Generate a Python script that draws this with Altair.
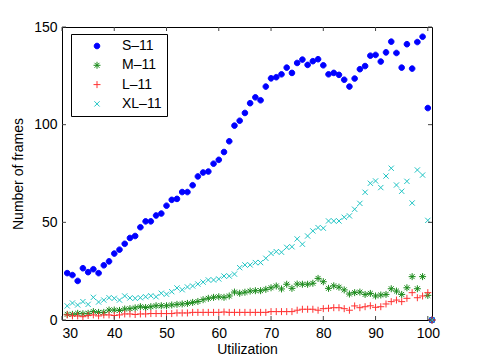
import altair as alt
import pandas as pd

series_names = ["S–11", "M–11", "L–11", "XL–11"]
series_colors = ["#0000ff", "#1a8a1a", "#ff3333", "#20c4c4"]

utilization = list(range(31, 101)) + [100.8]

s11 = [24, 23, 20, 26.5, 24.5, 26, 24, 28, 30, 34, 36, 39, 42, 43, 47.5, 50.5, 50.5, 53.5, 54.5, 58.5,
       61.5, 62, 65.5, 65.5, 69, 73.5, 75.5, 76, 80, 82, 86, 91.5, 99.5, 102, 106, 111, 114, 112.5, 119.5, 123.7,
       124.3, 125.8, 129.2, 126.5, 131.6, 133.3, 130.6, 132.5, 133.5, 130.4, 125.8, 126.5, 125.5, 123, 119.5, 123.6, 128.4, 130, 135.3, 135.7,
       132.3, 137, 142.5, 136.7, 129.2, 141.2, 128.7, 142.3, 145, 108.5, 0]

m11 = [2.9, 2.9, 3.4, 3.2, 3.4, 4.3, 3.9, 3.9, 5.1, 5.1, 4.9, 5.6, 5.8, 6.2, 6.8, 6.4, 6.8, 7.3, 7.3, 7.3,
       7.7, 8.0, 8.2, 8.5, 9.0, 9.5, 10.4, 11.1, 11.6, 11.9, 11.6, 12.3, 14.3, 13.7, 14.2, 14.8, 15, 15, 15.7, 16.5,
       17.4, 15.9, 18.3, 16.2, 18.4, 18.3, 18.3, 18.8, 21.3, 19.6, 16.2, 17.5, 16.8, 15.4, 13.3, 14, 14.3, 13.1, 13.6, 12.3,
       12.8, 13.1, 16, 14.8, 13.1, 16.5, 22.2, 16, 22.2, 12.6, 0]

l11 = [2.6, 2.1, 2.1, 1.7, 2.3, 2.6, 2.1, 2.6, 2.6, 2.3, 2.6, 3.1, 3.1, 2.8, 3.1, 3.1, 3.3, 3.3, 3.3, 3.3,
       3.3, 3.6, 3.6, 3.6, 3.9, 3.9, 3.9, 3.9, 3.9, 3.9, 4.1, 3.9, 3.9, 3.9, 3.9, 3.9, 3.9, 3.9, 3.9, 4.3,
       4.3, 4.3, 4.3, 4.3, 5.0, 5.5, 5.5, 5.5, 5.0, 5.8, 6.0, 6.3, 6.3, 5.8, 5.0, 7.2, 6.3, 6.8, 7.3, 6.5,
       6.8, 8.2, 9.4, 10.2, 9.4, 11.1, 14, 11.4, 12.3, 14, 0]

xl11 = [7.2, 8.7, 7.7, 9.4, 8.0, 11.6, 9.2, 10.2, 11.4, 11.1, 10.2, 12.3, 11.3, 11.1, 11.4, 11.9, 12.4, 11.9, 13.7, 13.2,
        14.5, 16.4, 15.5, 16.9, 17.4, 18.4, 19.4, 20.5, 20.5, 21, 22.5, 22.5, 23.5, 26.8, 28.2, 28.2, 29.4, 29.4, 31.6, 34.1,
        35, 34.7, 37.2, 37.5, 41.5, 38.8, 43, 45.6, 47.3, 47, 50.7, 50.7, 50.7, 52.6, 53.3, 56.7, 59.7, 65.4, 70, 71.2,
        67.8, 73.7, 77.7, 69.1, 65.9, 71, 59.9, 76.8, 74.2, 51, 0]

x_ticks = [30, 40, 50, 60, 70, 80, 90, 100]
y_ticks = [0, 50, 100, 150]

rows = []
for name, vals in zip(series_names, [s11, m11, l11, xl11]):
    for u, v in zip(utilization, vals):
        rows.append({"Utilization": u, "Frames": v, "Series": name})
df = pd.DataFrame(rows)

W, H = 370, 293
FONT = "Liberation Sans"

circle_path = "M0.8,0A0.8,0.8 0 1,1 -0.8,0A0.8,0.8 0 1,1 0.8,0Z"
asterisk_path = "M-1,0L1,0M0,-1L0,1M-0.7,-0.7L0.7,0.7M-0.7,0.7L0.7,-0.7"
plus_path = "M-1,0L1,0M0,-1L0,1"
cross_path = "M-0.75,-0.75L0.75,0.75M-0.75,0.75L0.75,-0.75"

xscale = alt.Scale(domain=[30, 100.8], nice=False, zero=False)
yscale = alt.Scale(domain=[0, 150], nice=False)

xaxis = alt.Axis(values=x_ticks, ticks=False, domain=False, grid=False, labelPadding=6,
                 labelFont=FONT, labelFontSize=14, labelColor="black",
                 title="Utilization", titleFont=FONT, titleFontSize=14, titleFontWeight="normal",
                 titleColor="black", titlePadding=2)
yaxis = alt.Axis(values=y_ticks, ticks=False, domain=False, grid=False, labelPadding=5,
                 labelFont=FONT, labelFontSize=14, labelColor="black",
                 title="Number of frames", titleFont=FONT, titleFontSize=14, titleFontWeight="normal",
                 titleColor="black", titlePadding=8)

legend = alt.Legend(
    title=None, orient="none", legendX=9, legendY=7,
    strokeColor="black", fillColor="white", padding=5,
    labelFont=FONT, labelFontSize=14, labelColor="black",
    symbolSize=49, symbolStrokeWidth=1, symbolOffset=14,
    labelOffset=18, rowPadding=5.3, cornerRadius=0,
)

points = alt.Chart(df).mark_point(filled=False, opacity=1, strokeWidth=1, size=49, clip=False).encode(
    x=alt.X("Utilization:Q", scale=xscale, axis=xaxis, title="Utilization"),
    y=alt.Y("Frames:Q", scale=yscale, axis=yaxis, title="Number of frames"),
    color=alt.Color("Series:N", scale=alt.Scale(domain=series_names, range=series_colors), legend=legend),
    fill=alt.Fill("Series:N", scale=alt.Scale(domain=series_names,
                                              range=["#0000ff", "transparent", "transparent", "transparent"]),
                  legend=legend),
    shape=alt.Shape("Series:N", scale=alt.Scale(domain=series_names,
                                                range=[circle_path, asterisk_path, plus_path, cross_path]),
                    legend=legend),
    order=alt.Order("order:Q"),
).transform_calculate(order="indexof(['S–11','M–11','L–11','XL–11'], datum.Series)")

xt = pd.DataFrame({"t": x_ticks})
yt = pd.DataFrame({"t": y_ticks})
TICK = "#444444"

xticks_bottom = alt.Chart(xt).mark_rule(color=TICK, strokeWidth=1).encode(
    x=alt.X("t:Q", scale=xscale, axis=xaxis, title="Utilization"), y=alt.value(H), y2=alt.value(H - 4))
xticks_top = alt.Chart(xt).mark_rule(color=TICK, strokeWidth=1).encode(
    x=alt.X("t:Q", scale=xscale, axis=xaxis, title="Utilization"), y=alt.value(0), y2=alt.value(4))
yticks_left = alt.Chart(yt).mark_rule(color=TICK, strokeWidth=1).encode(
    y=alt.Y("t:Q", scale=yscale, axis=yaxis, title="Number of frames"), x=alt.value(0), x2=alt.value(4))
yticks_right = alt.Chart(yt).mark_rule(color=TICK, strokeWidth=1).encode(
    y=alt.Y("t:Q", scale=yscale, axis=yaxis, title="Number of frames"), x=alt.value(W), x2=alt.value(W - 4))

chart = alt.layer(points, xticks_bottom, xticks_top, yticks_left, yticks_right).properties(
    width=W, height=H,
    padding={"left": 54, "top": 19, "right": 10, "bottom": 40},
    autosize=alt.AutoSizeParams(type="none"),
    background="white",
).configure_view(stroke="black", strokeWidth=1)

chart.save("out.html", embed_options={"renderer": "svg", "actions": False})
